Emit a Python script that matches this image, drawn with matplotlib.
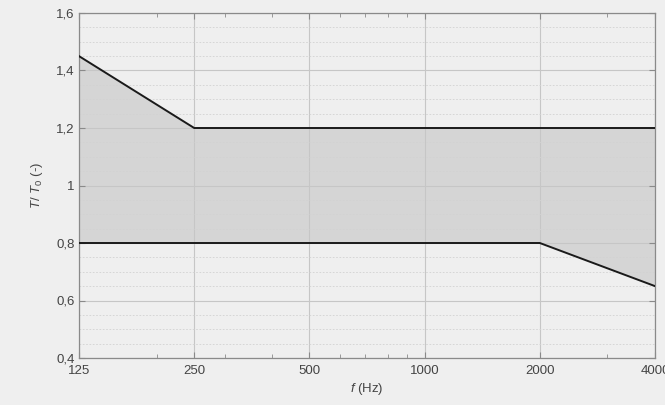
import matplotlib
matplotlib.use("Agg")
import matplotlib.pyplot as plt
from matplotlib.ticker import FixedLocator, FixedFormatter, MultipleLocator, FuncFormatter, NullFormatter

freq_upper = [125, 250, 4000]
upper = [1.45, 1.2, 1.2]
freq_lower = [125, 2000, 4000]
lower = [0.8, 0.8, 0.65]
fill_freq = [125, 250, 2000, 4000]
fill_upper = [1.45, 1.2, 1.2, 1.2]
fill_lower = [0.8, 0.8, 0.8, 0.65]
xticks = [125, 250, 500, 1000, 2000, 4000]
xminor = [200, 300, 400, 600, 700, 800, 900, 3000]

plt.rcParams['font.family'] = ['Liberation Sans', 'DejaVu Sans']
plt.rcParams['mathtext.fontset'] = 'custom'
plt.rcParams['mathtext.it'] = 'Liberation Sans:italic'
plt.rcParams['mathtext.rm'] = 'Liberation Sans'
bg = '#efefef'
fig = plt.figure(figsize=(6.65, 4.05), dpi=100, facecolor=bg)
ax = fig.add_axes([79/665, 1-358/405, (655-79)/665, (358-13)/405])
ax.set_facecolor(bg)
ax.set_xscale('log')
ax.fill_between(fill_freq, fill_lower, fill_upper, color='#d5d5d5', zorder=1, linewidth=0)
ax.plot(freq_upper, upper, color='#1a1a1a', lw=1.4, zorder=3)
ax.plot(freq_lower, lower, color='#1a1a1a', lw=1.4, zorder=3)
ax.set_xlim(125, 4000)
ax.set_ylim(0.4, 1.6)
ax.xaxis.set_major_locator(FixedLocator(xticks))
ax.xaxis.set_major_formatter(FixedFormatter([str(t) for t in xticks]))
ax.xaxis.set_minor_locator(FixedLocator(xminor))
ax.xaxis.set_minor_formatter(NullFormatter())
ax.yaxis.set_major_locator(MultipleLocator(0.2))
ax.yaxis.set_minor_locator(MultipleLocator(0.05))
def yfmt(v, p):
    s = ('%.1f' % v).replace('.', ',')
    if s.endswith(',0'):
        s = s[:-2]
    return s
ax.yaxis.set_major_formatter(FuncFormatter(yfmt))
ax.grid(True, which='major', color='#c6c6c6', lw=0.8, zorder=2)
ax.grid(True, which='minor', axis='y', color='#d2d2d2', lw=0.6, linestyle=(0, (2, 2)), zorder=2)
for s in ax.spines.values():
    s.set_color('#8a8a8a')
    s.set_linewidth(0.9)
ax.tick_params(which='both', direction='in', top=True, right=True, colors='#8a8a8a', labelcolor='#444444', labelsize=9.5)
ax.tick_params(which='major', length=4)
ax.tick_params(axis='x', which='minor', length=3)
ax.tick_params(axis='y', which='minor', length=0)
ax.tick_params(axis='x', pad=5)
ax.tick_params(axis='y', pad=3)
ax.set_xlabel('$f$ (Hz)', color='#444444', fontsize=9.5, labelpad=3)
ax.set_ylabel('$T$/ $T_0$ (-)', color='#444444', fontsize=9.5, labelpad=8)
fig.savefig('out.png', dpi=100, facecolor=bg)
